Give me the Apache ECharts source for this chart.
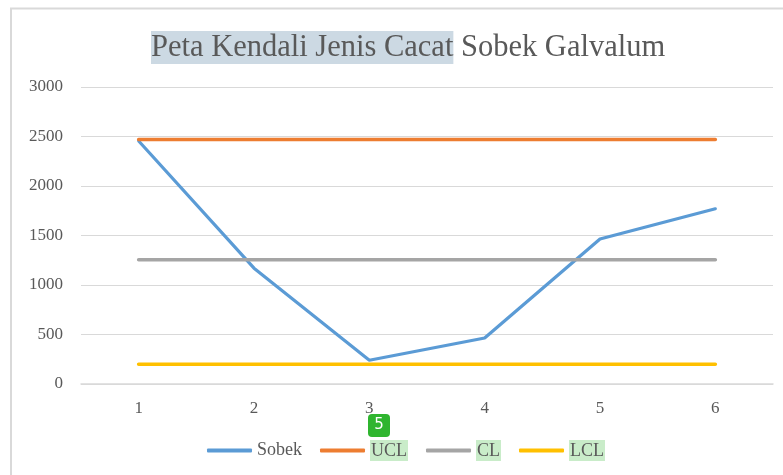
<!DOCTYPE html>
<html>
<head>
<meta charset="utf-8">
<script src="https://cdn.jsdelivr.net/npm/echarts@6/dist/echarts.min.js"></script>
<style>
  html, body { margin: 0; padding: 0; background: #fff; }
  #chart { width: 783px; height: 475px; }
</style>
</head>
<body>
<div id="chart"></div>
<script>
// data
var categories = ['1', '2', '3', '4', '5', '6']
var sobek = [2455, 1170, 240, 465, 1465, 1770]
var ucl = [2470, 2470, 2470, 2470, 2470, 2470]
var cl = [1255, 1255, 1255, 1255, 1255, 1255]
var lcl = [200, 200, 200, 200, 200, 200]
var seriesNames = ['Sobek', 'UCL', 'CL', 'LCL']
var colors = ['#5b9bd5', '#ed7d31', '#a5a5a5', '#ffc000']

var myChart = echarts.init(document.getElementById('chart'))
var font = '"Liberation Serif", "Times New Roman", serif'

function lineSeries(name, data, width) {
  return {
    name: name,
    type: 'line',
    data: data,
    showSymbol: false,
    symbol: 'none',
    lineStyle: { width: width, cap: 'round' },
    emphasis: { disabled: true }
  }
}

var option = {
  color: colors,
  animation: false,
  title: {
    text: '{hl|Peta Kendali Jenis Cacat} Sobek Galvalum',
    left: 146,
    top: 26,
    textStyle: {
      fontFamily: font,
      fontSize: 30.5,
      fontWeight: 'normal',
      color: '#595959',
      rich: {
        hl: {
          fontFamily: font,
          fontSize: 30.5,
          color: '#595959',
          backgroundColor: '#ccd9e3',
          padding: [1, 0, 1, 0]
        }
      }
    }
  },
  legend: {
    data: seriesNames,
    top: 435,
    left: 202,
    icon: 'roundRect',
    itemWidth: 45,
    itemHeight: 4,
    itemGap: 18,
    formatter: function (name) {
      return name === 'Sobek' ? name : '{hl|' + name + '}'
    },
    textStyle: {
      fontFamily: font,
      fontSize: 18,
      color: '#595959',
      rich: {
        hl: {
          fontFamily: font,
          fontSize: 18,
          color: '#595959',
          backgroundColor: '#c9ecc9',
          padding: [2, 1, 1, 1]
        }
      }
    }
  },
  grid: {
    left: 81,
    right: 10,
    top: 87,
    bottom: 91
  },
  xAxis: {
    type: 'category',
    data: categories,
    boundaryGap: true,
    axisLine: { show: true, lineStyle: { color: '#d9d9d9', width: 1.5 } },
    axisTick: { show: false },
    axisLabel: {
      margin: 16,
      fontFamily: font,
      fontSize: 17,
      color: '#595959'
    }
  },
  yAxis: {
    type: 'value',
    min: 0,
    max: 3000,
    interval: 500,
    axisLine: { show: false },
    axisTick: { show: false },
    splitLine: { lineStyle: { color: '#d9d9d9', width: 1 } },
    axisLabel: {
      margin: 18,
      fontFamily: font,
      fontSize: 17,
      color: '#595959',
      formatter: function (v) { return String(v) }
    }
  },
  graphic: [
    {
      type: 'polyline',
      silent: true,
      shape: { points: [[11, 480], [11, 8.5], [790, 8.5]] },
      style: { stroke: '#d9d9d9', lineWidth: 2, fill: null }
    },
    {
      type: 'group',
      left: 368,
      top: 414,
      silent: true,
      children: [
        {
          type: 'rect',
          shape: { x: 0, y: 0, width: 22, height: 23, r: 4 },
          style: { fill: '#2fb52f' }
        },
        {
          type: 'text',
          x: 11,
          y: 11.5,
          style: {
            text: '5',
            fill: '#fff',
            font: '15px "DejaVu Sans", sans-serif',
            align: 'center',
            verticalAlign: 'middle'
          }
        }
      ]
    }
  ],
  series: [
    lineSeries('Sobek', sobek, 3.2),
    lineSeries('UCL', ucl, 3.6),
    lineSeries('CL', cl, 3.6),
    lineSeries('LCL', lcl, 3.6)
  ]
}

option && myChart.setOption(option)
</script>
</body>
</html>
